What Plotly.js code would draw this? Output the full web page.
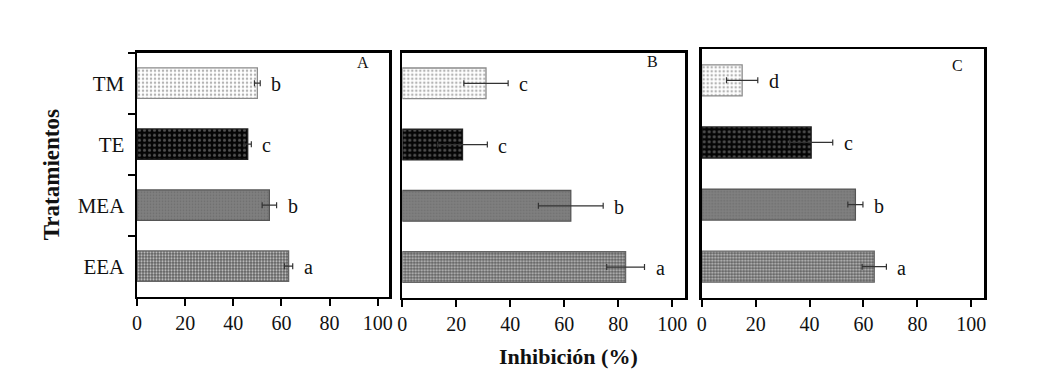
<!DOCTYPE html>
<html><head><meta charset="utf-8">
<script src="https://cdn.plot.ly/plotly-3.0.1.min.js"></script>
<style>html,body{margin:0;padding:0;background:#fff}</style>
</head><body><div id="chart" style="width:1056px;height:378px"></div>
<script>
const treatments = ['TM','TE','MEA','EEA'];
const panelLabels = ['A','B','C'];
const inhibA = [50, 46, 55, 63];
const errA = [1.2, 1.5, 3, 1.7];
const lettersA = ['b','c','b','a'];
const inhibB = [31, 22.3, 62.4, 82.7];
const errB = [8.2, 9.2, 12, 7];
const lettersB = ['c','c','b','a'];
const inhibC = [15, 40.6, 57, 64];
const errC = [5.8, 8, 2.8, 4.5];
const lettersC = ['d','c','b','a'];
const xTicks = [0,20,40,60,80,100];

const SERIF = '"Liberation Serif", "Times New Roman", serif';
const styles = [
  {bg:'#ffffff', fg:'#b4b4b4', shape:'.', size:4, solidity:0.3, line:'#8a8a8a'},
  {bg:'#050505', fg:'#505050', shape:'.', size:5, solidity:0.3, line:'#222222'},
  {bg:'#808080', fg:'#6c6c6c', shape:'.', size:3, solidity:0.25, line:'#555555'},
  {bg:'#5e5e5e', fg:'#cccccc', shape:'.', size:3, solidity:0.42, line:'#666666'}
];

const panels = [
  {v: inhibA, e: errA, l: lettersA, xa:'x', ya:'y'},
  {v: inhibB, e: errB, l: lettersB, xa:'x2', ya:'y2'},
  {v: inhibC, e: errC, l: lettersC, xa:'x3', ya:'y3'}
];

const traces = [];
panels.forEach(p => {
  treatments.forEach((t,i) => {
    const s = styles[i];
    traces.push({
      type:'bar', orientation:'h', x:[p.v[i]], y:[t], xaxis:p.xa, yaxis:p.ya, name:t,
      width:0.5,
      marker:{color:s.bg, line:{color:s.line, width:1.3},
        pattern:{shape:s.shape, fgcolor:s.fg, bgcolor:s.bg, size:s.size, solidity:s.solidity, fillmode:'replace'}},
      error_x:{type:'data', array:[p.e[i]], visible:true, color:'#333', thickness:1.2, width:3},
      showlegend:false, hoverinfo:'x+y'
    });
  });
});

const annotations = [];
panels.forEach(p => {
  treatments.forEach((t,i) => {
    annotations.push({xref:p.xa, yref:p.ya, x:p.v[i]+p.e[i], y:t, text:p.l[i],
      showarrow:false, xanchor:'left', xshift:9, yshift:-1,
      font:{family:SERIF, size:20, color:'#111'}});
  });
});
const panelPos = [[363,63],[652,62],[957,65]];
panelLabels.forEach((L,i) => {
  annotations.push({xref:'paper', yref:'paper', x:panelPos[i][0]/1056, y:1-panelPos[i][1]/378,
    text:L, showarrow:false, xanchor:'center', yanchor:'middle',
    font:{family:SERIF, size:16, color:'#111'}});
});
annotations.push({xref:'paper', yref:'paper', x:568/1056, y:1-356.5/378, text:'<b>Inhibición (%)</b>',
  showarrow:false, xanchor:'center', yanchor:'middle', font:{family:SERIF, size:22, color:'#111'}});

function xax(d){
  return {domain:d, range:[0,104.7], tickvals:xTicks, ticktext:xTicks.map(String), ticks:'outside', ticklen:7, tickwidth:2,
    tickcolor:'#000', showline:true, linewidth:2.5, linecolor:'#000', mirror:true, showgrid:false, zeroline:false,
    tickfont:{family:SERIF, size:20, color:'#111'}, fixedrange:true};
}
function yax(d, show, anchor){
  return {domain:d, type:'category', categoryorder:'array', categoryarray:treatments, autorange:'reversed',
    anchor:anchor, tickson:'boundaries', ticks:'outside', ticklen:7, tickwidth:2, tickcolor:'#000',
    showline:true, linewidth:2.5, linecolor:'#000', mirror:true, showgrid:false, zeroline:false,
    showticklabels:show, tickfont:{family:SERIF, size:21, color:'#111'}, fixedrange:true};
}

const ya = yax([1-296.7/378, 1-52.7/378], true, 'x');
ya.ticklabelstandoff = 6;
ya.title = {text:'<b>Tratamientos</b>', font:{family:SERIF, size:23, color:'#111'}, standoff:12};
const layout = {
  width:1056, height:378, margin:{l:0,r:0,t:0,b:0}, paper_bgcolor:'#fff', plot_bgcolor:'#fff',
  xaxis: Object.assign(xax([137/1056, 389/1056]), {anchor:'y'}),
  xaxis2: Object.assign(xax([402.3/1056, 685/1056]), {anchor:'y2'}),
  xaxis3: Object.assign(xax([701.7/1056, 984/1056]), {anchor:'y3'}),
  yaxis: ya,
  yaxis2: Object.assign(yax([1-297.7/378, 1-52.7/378], false, 'x2'), {ticks:''}),
  yaxis3: Object.assign(yax([1-297.7/378, 1-49.3/378], false, 'x3'), {ticks:''}),
  annotations: annotations, barmode:'overlay'
};
Plotly.newPlot('chart', traces, layout, {displayModeBar:false, staticPlot:true});
</script></body></html>
